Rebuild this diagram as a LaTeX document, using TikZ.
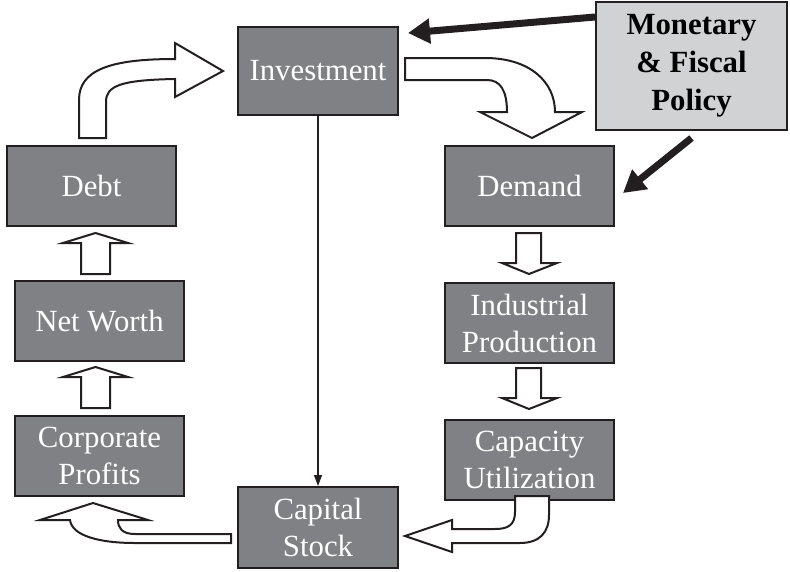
\documentclass[tikz,border=0pt]{standalone}
\usepackage{fontspec}
\setmainfont{Liberation Serif}
\usetikzlibrary{positioning,arrows.meta}

\definecolor{boxgray}{RGB}{128,129,132}
\definecolor{policygray}{RGB}{209,210,212}
\definecolor{edge}{RGB}{35,31,32}

\begin{document}
\begin{tikzpicture}[x=1pt,y=-1pt
		,every node/.append style={draw=edge, line width=2pt, inner sep=0pt, align=center, font=\fontsize{30.8}{37}\selectfont}
		,stage/.style={fill=boxgray, text=white, minimum width=169pt, minimum height=80pt}
		,policy/.style={fill=policygray, text=black, font=\bfseries\fontsize{30.8}{38}\selectfont, minimum width=191pt, minimum height=128pt}
		,fat/.style={draw=edge, fill=white, line width=2pt, line join=miter}
		,push/.style={draw=edge, line width=7pt, -{Triangle[length=22pt,width=24pt]}}
		,flow/.style={draw=edge, line width=1.2pt, -{Triangle[length=11pt,width=8pt]}}
	]
		\useasboundingbox (0,0) rectangle (790,571);

		% the two columns
		\node [stage] (debt) at (91.5,186) {Debt};
		\node [stage] (net) at (99.5,321) {Net Worth};
		\node [stage] (corp) at (99.5,456) {Corporate\\Profits};
		\node [stage] (dem) at (529.5,186) {Demand};
		\node [stage, below=55pt of dem] (ind) {Industrial\\Production};
		\node [stage, below=55pt of ind] (cap) {Capacity\\Utilization};
		\node [stage, minimum width=160pt, minimum height=88pt] (inv) at (318,71) {Investment};
		\node [stage, minimum width=160pt, minimum height=81pt] (stock) at (318,527.5) {Capital\\Stock};
		\node [policy] (pol) at (691.5,66) {Monetary\\\& Fiscal\\Policy};

		% straight block arrows
		\foreach \y in {233,367} {
			\draw [fat] (81,\y+41) -- (81,\y+10) -- (63,\y+10) -- (95.5,\y) -- (128,\y+10) -- (110,\y+10) -- (110,\y+41) -- cycle;
		}
		\foreach \y in {233,368} {
			\draw [fat] (516,\y) -- (541,\y) -- (541,\y+30) -- (557,\y+30) -- (529,\y+41) -- (502,\y+30) -- (516,\y+30) -- cycle;
		}

		% curved block arrows
		\draw [fat] (79,138) -- (79,100) .. controls (79,70) and (110,59) .. (175,59) -- (175,43) -- (223,71)
			-- (175,97) -- (175,79) .. controls (120,80) and (106,86) .. (106,102) -- (106,138) -- cycle;
		\draw [fat] (405,58) -- (485,58) .. controls (530,58) and (555,82) .. (555,112) -- (582,112) -- (532,138)
			-- (480,112) -- (507,112) .. controls (507,90) and (500,80) .. (487,80) -- (405,80) -- cycle;
		\draw [fat] (515,496) -- (515,512) .. controls (515,525) and (508,529) .. (495,529) -- (452,529) -- (452,520)
			-- (405,536) -- (452,552) -- (452,543) -- (520,543) .. controls (540,543) and (549,532) .. (549,515) -- (549,496) -- cycle;
		\draw [fat] (231,534) -- (135,534) .. controls (122,534) and (118,528) .. (118,520) -- (148,520) -- (93,503)
			-- (40,520) -- (70,520) .. controls (72,536) and (100,543) .. (135,543) -- (231,543) -- cycle;

		% thin and thick arrows
		\draw [flow] (inv.south) -- (stock.north);
		\draw [push] ([yshift=-16pt]pol.north west) -- ([shift={(9pt,-7pt)}]inv.north east);
		\draw [push] ([yshift=-7pt]pol.south) -- ([shift={(8pt,-7pt)}]dem.east);
	\end{tikzpicture}
\end{document}
